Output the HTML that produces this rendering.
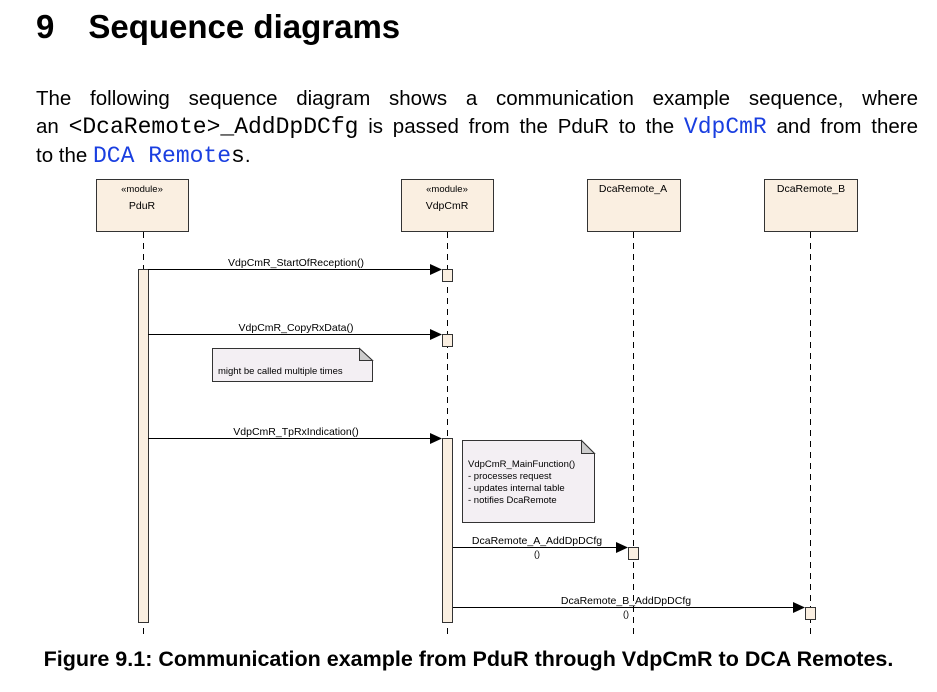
<!DOCTYPE html>
<html><head><meta charset="utf-8"><style>
body{margin:0;background:#fff;width:937px;height:692px;overflow:hidden;font-family:"Liberation Sans",sans-serif;}
.h{position:absolute;left:36px;top:8px;font-size:33px;font-weight:bold;color:#000;}
.p{position:absolute;left:36px;top:84px;font-size:20.5px;line-height:29px;color:#000;width:882px;}
.j{text-align:justify;text-align-last:justify;}
.m{font-family:"Liberation Mono",monospace;font-size:23px;}
.b{color:#1a3fe0;}
.c{position:absolute;left:0;width:937px;top:647px;text-align:center;font-size:21.5px;font-weight:bold;}
svg{position:absolute;left:0;top:0;}
</style></head><body>
<div class="h">9<span style="display:inline-block;width:34px"></span>Sequence diagrams</div>
<div class="p j">The following sequence diagram shows a communication example sequence, where</div>
<div class="p j" style="top:112px;">an <span class="m">&lt;DcaRemote&gt;_AddDpDCfg</span> is passed from the PduR to the <span class="m b">VdpCmR</span> and from there</div>
<div class="p" style="top:141px;">to the <span class="m b">DCA Remote</span><span class="m">s</span>.</div>
<svg width="937" height="692" font-family="Liberation Sans, sans-serif" font-size="10.5">
<g fill="#faefe1" stroke="#333" stroke-width="1">
<rect x="96.5" y="179.5" width="92" height="52"/>
<rect x="401.5" y="179.5" width="92" height="52"/>
<rect x="587.5" y="179.5" width="93" height="52"/>
<rect x="764.5" y="179.5" width="93" height="52"/>
</g>
<g fill="#000" text-anchor="middle">
<text x="142" y="192" font-size="9.5">«module»</text><text x="142" y="209">PduR</text>
<text x="447" y="192" font-size="9.5">«module»</text><text x="447" y="209">VdpCmR</text>
<text x="633" y="192">DcaRemote_A</text>
<text x="811" y="192">DcaRemote_B</text>
</g>
<g stroke="#000" stroke-dasharray="6,5" stroke-width="1">
<line x1="143.5" y1="232" x2="143.5" y2="635"/>
<line x1="447.5" y1="232" x2="447.5" y2="635"/>
<line x1="633.5" y1="232" x2="633.5" y2="635"/>
<line x1="810.5" y1="232" x2="810.5" y2="635"/>
</g>
<g fill="#faefe1" stroke="#333">
<rect x="138.5" y="269.5" width="10" height="353"/>
<rect x="442.5" y="269.5" width="10" height="12"/>
<rect x="442.5" y="334.5" width="10" height="12"/>
<rect x="442.5" y="438.5" width="10" height="184"/>
<rect x="628.5" y="547.5" width="10" height="12"/>
<rect x="805.5" y="607.5" width="10" height="12"/>
</g>
<g stroke="#000">
<line x1="148" y1="269.5" x2="432" y2="269.5"/>
<line x1="148" y1="334.5" x2="432" y2="334.5"/>
<line x1="148" y1="438.5" x2="432" y2="438.5"/>
<line x1="453" y1="547.5" x2="618" y2="547.5"/>
<line x1="453" y1="607.5" x2="795" y2="607.5"/>
</g>
<g fill="#000">
<polygon points="430,264 442,269.5 430,275"/>
<polygon points="430,329 442,334.5 430,340"/>
<polygon points="430,433 442,438.5 430,444"/>
<polygon points="616,542 628,547.5 616,553"/>
<polygon points="793,602 805,607.5 793,613"/>
</g>
<g fill="#000" text-anchor="middle">
<text x="296" y="266">VdpCmR_StartOfReception()</text>
<text x="296" y="331">VdpCmR_CopyRxData()</text>
<text x="296" y="435">VdpCmR_TpRxIndication()</text>
<text x="537" y="544">DcaRemote_A_AddDpDCfg</text>
<text x="537" y="557" font-size="9">()</text>
<text x="626" y="604">DcaRemote_B_AddDpDCfg</text>
<text x="626" y="617" font-size="9">()</text>
</g>
<g stroke="#333" fill="#f3eff3">
<path d="M212.5 348.5 H359.5 L372.5 360.5 V381.5 H212.5 Z"/>
<path d="M359.5 348.5 V360.5 H372.5 Z" fill="#ccc"/>
<path d="M462.5 440.5 H581.5 L594.5 453.5 V522.5 H462.5 Z"/>
<path d="M581.5 440.5 V453.5 H594.5 Z" fill="#ccc"/>
</g>
<g fill="#000" font-size="9.5">
<text x="218" y="374">might be called multiple times</text>
<text x="468" y="467">VdpCmR_MainFunction()</text>
<text x="468" y="479">- processes request</text>
<text x="468" y="491">- updates internal table</text>
<text x="468" y="503">- notifies DcaRemote</text>
</g>
</svg>
<div class="c">Figure 9.1: Communication example from PduR through VdpCmR to DCA Remotes.</div>
</body></html>
